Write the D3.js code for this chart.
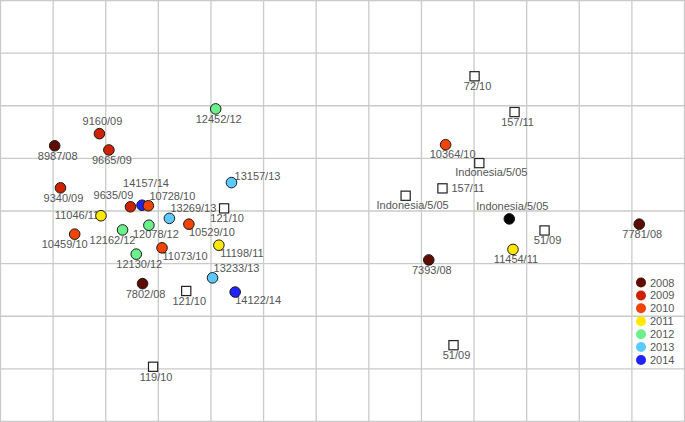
<!DOCTYPE html>
<html><head><meta charset="utf-8">
<script src="https://cdn.jsdelivr.net/npm/d3@7"></script>
<style>html,body{margin:0;padding:0;background:#fff;}svg{display:block;}</style>
</head><body>
<svg id="chart" width="685" height="422"></svg>
<script>
// ---- data ----
const labels = ["8987/08","9160/09","9665/09","12452/12","13157/13","9340/09","14157/14","9635/09","10728/10","11046/11",
  "13269/13","121/10","12162/12","12078/12","10529/10","10459/10","11073/10","11198/11","12130/12","13233/13",
  "7802/08","121/10","14122/14","119/10",
  "72/10","157/11","10364/10","Indonesia/5/05","157/11","Indonesia/5/05","Indonesia/5/05","51/09","11454/11","7393/08","7781/08","51/09"];
const xs = [1.03,1.88,2.06,4.09,4.39,1.14,2.69,2.47,2.81,1.91,
  3.21,4.25,2.32,2.82,3.58,1.41,3.07,4.15,2.58,4.03,
  2.70,3.53,4.46,2.90,
  9.01,9.77,8.46,9.10,8.40,7.70,9.67,10.34,9.74,8.14,12.14,8.61];
const ys = [2.76,2.53,2.84,2.06,3.46,3.56,3.89,3.92,3.90,4.09,
  4.14,3.95,4.36,4.27,4.25,4.44,4.70,4.65,4.82,5.27,
  5.38,5.52,5.54,6.96,
  1.44,2.12,2.74,3.09,3.57,3.71,4.15,4.37,4.73,4.93,4.25,6.55];
const groups = ["2008","2009","2009","2012","2013","2009","2014","2009","2010","2011",
  "2013","ref","2012","2012","2010","2010","2010","2011","2012","2013",
  "2008","ref","2014","ref",
  "ref","ref","2010","ref","ref","ref","Indonesia","ref","2011","2008","2008","ref"];
const labelPlace = ["b","a","b","b","rr","b","a2","al","ar","l",
  "ar","b","bl","b2","br","bl","br","br","b","ar",
  "b","b","br","b",
  "b","b","b2","b3","r","b2","a","b","b","b","b","b"];
const years = ["2008","2009","2010","2011","2012","2013","2014"];
const yearColors = ["#5e0c00","#cc2200","#f04400","#ffe800","#6cf08c","#5ccaff","#2222ff"];

// ---- layout ----
const W = 685, H = 422;
const svg = d3.select("#chart");
const x = d3.scaleLinear().domain([0, 13]).range([0.5, 684.5]);
const y = d3.scaleLinear().domain([0, 8]).range([0.5, 421.5]);
const color = d3.scaleOrdinal().domain(years).range(yearColors);

// grid
svg.append("g").selectAll("line.v").data(d3.range(0, 14)).join("line")
  .attr("x1", d => x(d)).attr("x2", d => x(d)).attr("y1", 0).attr("y2", H)
  .attr("stroke", "#cacaca").attr("stroke-width", 1.3);
svg.append("g").selectAll("line.h").data(d3.range(0, 9)).join("line")
  .attr("y1", d => y(d)).attr("y2", d => y(d)).attr("x1", 0).attr("x2", W)
  .attr("stroke", "#cacaca").attr("stroke-width", 1.3);

const place = {
  b: [3, 14, "middle"], b2: [7, 13, "middle"], b3: [12, 13, "middle"],
  bl: [-10, 14, "middle"], br: [23, 12, "middle"],
  a: [3, -9, "middle"], a2: [4, -18, "middle"], al: [-17, -8, "middle"],
  ar: [24, -6, "middle"], rr: [26, -3, "middle"],
  r: [9, 4, "start"], l: [-24, 3, "middle"]
};

const pts = labels.map((l, i) => ({label: l, x: xs[i], y: ys[i], g: groups[i], p: labelPlace[i]}));

// labels (under markers)
svg.append("g").selectAll("text").data(pts).join("text")
  .attr("x", d => x(d.x) + place[d.p][0])
  .attr("y", d => y(d.y) + place[d.p][1])
  .attr("text-anchor", d => place[d.p][2])
  .attr("font-family", "Liberation Sans, Arial, sans-serif")
  .attr("font-size", 11).attr("fill", "#555")
  .text(d => d.label);

// markers
const mk = svg.append("g");
mk.selectAll("rect").data(pts.filter(d => d.g === "ref")).join("rect")
  .attr("x", d => x(d.x) - 4.6).attr("y", d => y(d.y) - 4.6)
  .attr("width", 9.2).attr("height", 9.2)
  .attr("fill", "#fff").attr("stroke", "#222").attr("stroke-width", 1.2);
mk.selectAll("circle").data(pts.filter(d => d.g !== "ref")).join("circle")
  .attr("cx", d => x(d.x)).attr("cy", d => y(d.y)).attr("r", 5.3)
  .attr("fill", d => d.g === "Indonesia" ? "#000" : color(d.g))
  .attr("stroke", "#1a1a1a").attr("stroke-width", 1);

// legend
const lg = svg.append("g");
const ly = d3.scalePoint().domain(years).range([282.5, 360]);
lg.selectAll("circle").data(years).join("circle")
  .attr("cx", 641).attr("cy", d => ly(d)).attr("r", 5).attr("fill", d => color(d));
lg.selectAll("text").data(years).join("text")
  .attr("x", 650).attr("y", d => ly(d) + 4)
  .attr("font-family", "Liberation Sans, Arial, sans-serif")
  .attr("font-size", 11).attr("fill", "#555")
  .text(d => d);
</script>
</body></html>
